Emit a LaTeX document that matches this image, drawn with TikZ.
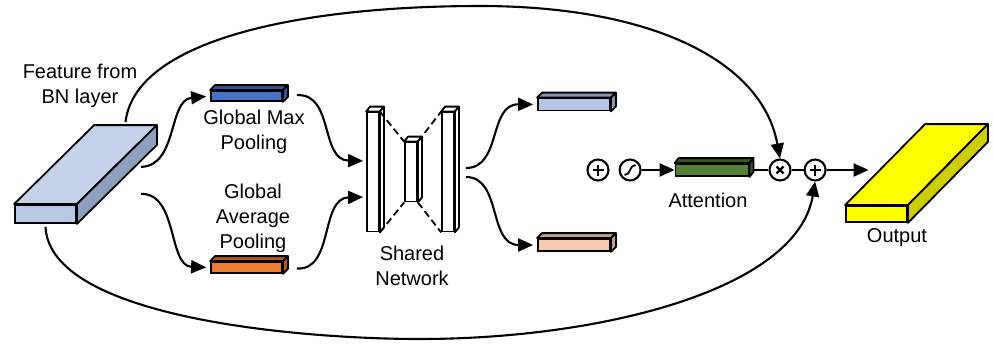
\documentclass[tikz,border=0pt]{standalone}
\usepackage{fontspec}
\setmainfont{Liberation Sans}
\usetikzlibrary{positioning,arrows.meta,calc}
\definecolor{featF}{RGB}{184,201,231}
\definecolor{featT}{RGB}{196,210,236}
\definecolor{featS}{RGB}{142,160,192}
\definecolor{maxF}{RGB}{68,114,196}
\definecolor{maxS}{RGB}{47,85,151}
\definecolor{avgF}{RGB}{237,125,49}
\definecolor{avgS}{RGB}{180,88,30}
\definecolor{fcaF}{RGB}{180,199,231}
\definecolor{fcaS}{RGB}{132,151,176}
\definecolor{fcbF}{RGB}{248,203,173}
\definecolor{fcbS}{RGB}{200,160,135}
\definecolor{attF}{RGB}{84,130,53}
\definecolor{attS}{RGB}{56,87,35}
\definecolor{outF}{RGB}{255,255,0}
\definecolor{outS}{RGB}{205,205,0}

% top and side faces of a box whose front face is node #1
\newcommand{\slabfaces}[5]{%
  \draw[line width=1.8pt,line join=round,fill=#4] (#1.north west) -- ++(#2,#3)
    -- ($(#1.north east)+(#2,#3)$) -- (#1.north east) -- cycle;
  \draw[line width=1.8pt,line join=round,fill=#5] (#1.north east) -- ++(#2,#3)
    -- ($(#1.south east)+(#2,#3)$) -- (#1.south east) -- cycle;
}

\begin{document}
\begin{tikzpicture}[x=1pt,y=-1pt,font=\fontsize{20}{25}\selectfont,
  front/.style={draw,line width=1.8pt,inner sep=0pt},
  lbl/.style={align=center,inner sep=0pt},
  flow/.style={line width=2.1pt,-{Triangle[length=15pt,width=13pt]}},
  link/.style={line width=2.1pt},
  netdash/.style={line width=1.8pt,dash pattern=on 7pt off 4pt},
  op/.style={circle,draw,line width=2.1pt,minimum size=21pt,inner sep=0pt},
  plusop/.style={op,path picture={\draw[line width=2.2pt,shift={(path picture bounding box.center)}]
    (-5.5pt,0pt) -- (5.5pt,0pt) (0pt,-5.5pt) -- (0pt,5.5pt);}},
  timesop/.style={op,path picture={\draw[line width=2.2pt,shift={(path picture bounding box.center)}]
    (-3.5pt,-3.5pt) -- (3.5pt,3.5pt) (-3.5pt,3.5pt) -- (3.5pt,-3.5pt);}},
  sigop/.style={op,path picture={\draw[line width=1.8pt,shift={(path picture bounding box.center)}]
    (-5.5pt,-5pt) .. controls (1pt,-5pt) and (-1pt,5pt) .. (5.5pt,5pt);}}]
  \useasboundingbox (0,0) rectangle (993,343);

  % input feature map
  \node[front,fill=featF,minimum width=61pt,minimum height=18pt] (feat) at (45.5,214) {};
  \slabfaces{feat}{80}{-79}{featT}{featS}
  \node[lbl] (featlbl) at (80,85.5) {Feature from\\BN layer};

  % pooled descriptors
  \node[front,fill=maxF,minimum width=71pt,minimum height=10pt] (gmp) at (246.5,96) {};
  \slabfaces{gmp}{5}{-5}{maxS}{maxS}
  \node[lbl] (gmplbl) at (254,132) {Global Max\\Pooling};
  \node[front,fill=avgF,minimum width=71pt,minimum height=11pt] (gap) at (246.5,267.5) {};
  \slabfaces{gap}{5}{-5}{avgS}{avgS}
  \node[lbl] (gaplbl) at (253,218) {Global\\Average\\Pooling};

  % shared network: wide - narrow - wide
  \foreach \n/\x/\h in {lbar/373/119, mbar/411/59, rbar/448/119} {
    \node[front,fill=white,minimum width=12pt,minimum height=\h pt] (\n) at (\x,172) {};
    \slabfaces{\n}{4}{-5}{white}{white}
  }
  \draw[netdash] (lbar.north east) -- (mbar.north west);
  \draw[netdash] (lbar.south east) -- (mbar.south west);
  \draw[netdash] (mbar.north east) -- (rbar.north west);
  \draw[netdash] (mbar.south east) -- (rbar.south west);
  \node[lbl] (snlbl) at (412,265.5) {Shared\\Network};

  % two outputs of the shared network
  \node[front,fill=fcaF,minimum width=72pt,minimum height=12pt] (fca) at (574,104.5) {};
  \slabfaces{fca}{5}{-5}{fcaS}{fcaS}
  \node[front,fill=fcbF,minimum width=72pt,minimum height=12pt] (fcb) at (574,245) {};
  \slabfaces{fcb}{5}{-5}{fcbS}{fcbS}

  % sum, sigmoid, attention, product, residual sum
  \node[plusop] (sum) at (598,170) {};
  \node[sigop,right=9pt of sum] (sig) {};
  \node[front,fill=attF,minimum width=73pt,minimum height=12pt,right=33pt of sig] (att) {};
  \slabfaces{att}{4}{-5}{attS}{attS}
  \node[lbl] (attlbl) at (708,200) {Attention};
  \node[timesop,right=19pt of att] (mul) {};
  \node[plusop,right=12pt of mul] (add) {};
  \coordinate[right=42pt of add] (outin);

  % output feature map
  \node[front,fill=outF,minimum width=61pt,minimum height=16pt] (out) at (876.5,214) {};
  \slabfaces{out}{80}{-81}{outF}{outS}
  \node[lbl] (outlbl) at (897,238) {Output};

  % connectors
  \draw[flow,shorten >=4pt] ($(feat.south east)+(64,-57)$) .. controls (178,166) and (168,100) .. (gmp.west);
  \draw[flow,shorten >=4pt] ($(feat.south east)+(64,-30)$) .. controls (178,193) and (168,266) .. (gap.west);
  \draw[flow,shorten <=14pt,shorten >=3pt] (gmp.east) .. controls (334,93) and (320,160) .. ($(lbar.west)+(0,-11)$);
  \draw[flow,shorten <=14pt,shorten >=3pt] (gap.east) .. controls (334,271) and (320,198) .. ($(lbar.west)+(0,25)$);
  \draw[flow,shorten >=4pt] ($(rbar.east)+(11,-4)$) .. controls (502,168) and (488,104) .. (fca.west);
  \draw[flow,shorten >=4pt] ($(rbar.east)+(11,5)$) .. controls (502,177) and (488,245) .. (fcb.west);
  \draw[flow] (sig) -- (att);
  \draw[link] ($(att.east)+(4,0)$) -- (mul);
  \draw[link] (mul) -- (add);
  \draw[flow] (add) -- (outin);
  % skip paths round the block
  \draw[flow] ($(feat.north)+(80,-82)$) .. controls (135,40) and (300,6) .. (480,6)
    .. controls (650,6) and (762,60) .. (mul.north);
  \draw[flow] ($(feat.south)+(0,3)$) .. controls (50,318) and (300,339) .. (420,339)
    .. controls (600,339) and (797,290) .. (add.south);
\end{tikzpicture}
\end{document}
